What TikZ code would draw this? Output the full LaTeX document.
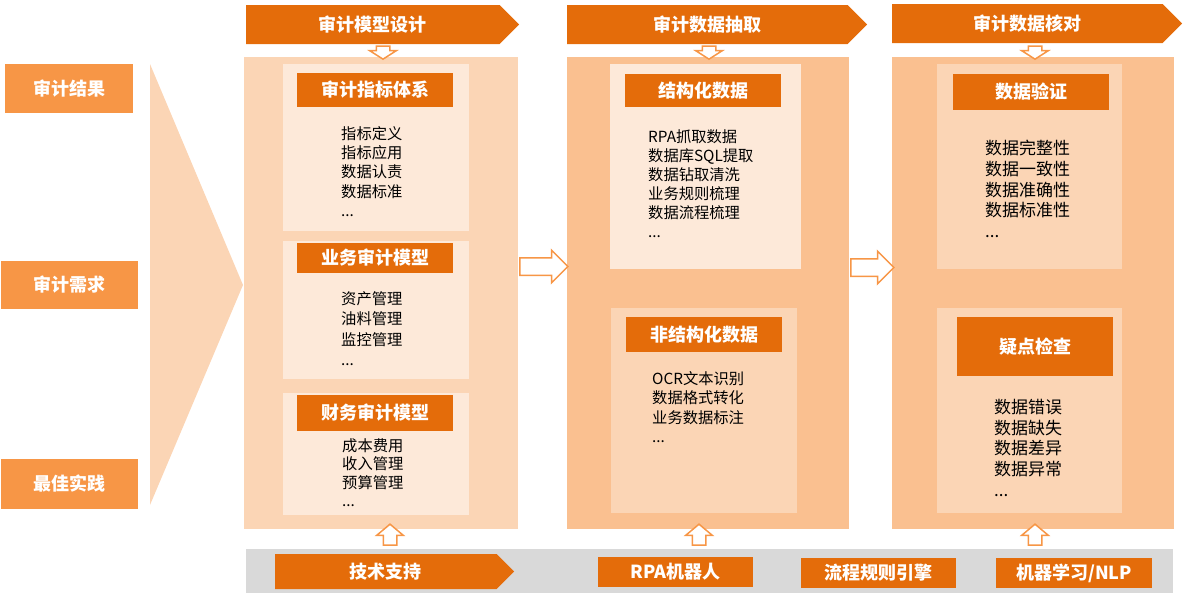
\documentclass[tikz,border=0pt]{standalone}
\usepackage{fontspec}
\setmainfont{Noto Sans CJK SC}
\usepackage{tikz}
\usetikzlibrary{shapes.symbols,shapes.arrows}

\definecolor{dkorange}{RGB}{228,108,10}
\definecolor{midorange}{RGB}{247,150,70}
\definecolor{peach}{RGB}{250,192,144}
\definecolor{lightpeach}{RGB}{251,213,181}
\definecolor{palepeach}{RGB}{253,233,217}
\definecolor{bargrey}{RGB}{217,217,217}

\begin{document}
\begin{tikzpicture}[x=1pt,y=-1pt,
    head/.style={signal, signal to=east, anchor=west, fill=dkorange, text=white, inner sep=0,
        font=\bfseries\fontsize{18}{22}\selectfont},
    title/.style={fill=dkorange, text=white, inner sep=0, minimum width=156,
        font=\bfseries\fontsize{18}{22}\selectfont},
    side/.style={fill=midorange, text=white, inner sep=0,
        font=\bfseries\fontsize{18}{22}\selectfont},
    items/.style={anchor=north west, align=left, inner sep=0,
        font=\fontsize{15.3}{19.3}\selectfont},
    bigitems/.style={items, font=\fontsize{17}{20.7}\selectfont},
    flow/.style={single arrow, draw=midorange, fill=white, line width=1.5pt,
        inner xsep=0, inner ysep=8, minimum width=31, single arrow head extend=7.5},
    small/.style={single arrow, draw=midorange, fill=white, line width=1.5pt,
        inner xsep=0, inner ysep=6, minimum width=25, single arrow head extend=6.5}]
    \useasboundingbox (0,0) rectangle (1194,605);

    % left side
    \fill[lightpeach] (150,64) -- (243,285) -- (150,505) -- cycle;
    \node[side, minimum width=128, minimum height=49] (result) at (69,88.5) {审计结果};
    \node[side, minimum width=137, minimum height=48] (demand) at (69.5,285) {审计需求};
    \node[side, minimum width=137, minimum height=50] (practice) at (69.5,484) {最佳实践};

    % panels
    \fill[lightpeach] (244,57) rectangle (518,529);
    \fill[peach] (567,57) rectangle (849,529);
    \fill[peach] (892,57) rectangle (1174,529);
    \fill[palepeach] (283,64) rectangle (469,231);
    \fill[palepeach] (283,241) rectangle (469,379);
    \fill[palepeach] (283,393) rectangle (469,515);
    \fill[palepeach] (610,64) rectangle (801,269);
    \fill[lightpeach] (611,308) rectangle (797,513);
    \fill[lightpeach] (937,64) rectangle (1122,269);
    \fill[lightpeach] (937,308) rectangle (1122,513);

    % headers
    \node[head, minimum width=273, minimum height=39] (design) at (246,24.5) {审计模型设计};
    \node[head, minimum width=300, minimum height=39] (extract) at (567,24.5) {审计数据抽取};
    \node[head, minimum width=290, minimum height=39] (check) at (892,23.5) {审计数据核对};
    \node[small, rotate=-90, minimum height=13, single arrow tip angle=115] (d1) at (383,50.5) {};
    \node[small, rotate=-90, minimum height=13, single arrow tip angle=115] (d2) at (709,50.5) {};
    \node[small, rotate=-90, minimum height=13, single arrow tip angle=115] (d3) at (1035,50.5) {};

    % model design
    \node[title, minimum height=34] (index) at (375,90) {审计指标体系};
    \node[items] (indexlist) at (341,126) {指标定义\\指标应用\\数据认责\\数据标准\\...};
    \node[title, minimum height=30] (business) at (375,258) {业务审计模型};
    \node[items, font=\fontsize{15.3}{20.5}\selectfont] (businesslist) at (341,291) {资产管理\\油料管理\\监控管理\\...};
    \node[title, minimum height=36] (finance) at (375,413) {财务审计模型};
    \node[items, font=\fontsize{15.3}{18.5}\selectfont] (financelist) at (342,438) {成本费用\\收入管理\\预算管理\\...};

    % data extraction
    \node[title, minimum height=33] (struct) at (703,90.5) {结构化数据};
    \node[items, font=\fontsize{15.3}{19}\selectfont] (structlist) at (648,129) {RPA抓取数据\\数据库SQL提取\\数据钻取清洗\\业务规则梳理\\数据流程梳理\\...};
    \node[title, minimum height=35] (unstruct) at (704,334.5) {非结构化数据};
    \node[items, font=\fontsize{15.3}{19.5}\selectfont] (unstructlist) at (652,371) {OCR文本识别\\数据格式转化\\业务数据标注\\...};

    % data check
    \node[title, minimum height=36] (verify) at (1031,92) {数据验证};
    \node[bigitems] (verifylist) at (985,140) {数据完整性\\数据一致性\\数据准确性\\数据标准性\\...};
    \node[title, minimum height=59] (doubt) at (1035,346.5) {疑点检查};
    \node[bigitems] (doubtlist) at (994,399) {数据错误\\数据缺失\\数据差异\\数据异常\\...};

    % flow between panels
    \node[flow, minimum height=48] (f1) at (539.5,266.5) {};
    \node[flow, minimum height=43] (f2) at (868,267.5) {};

    % support bar
    \fill[bargrey] (246,549) rectangle (1173,593);
    \node[head, minimum width=239, minimum height=35] (tech) at (275,571.5) {技术支持};
    \node[title, minimum width=155, minimum height=30] (rpa) at (675.5,572) {RPA机器人};
    \node[title, minimum width=155, minimum height=30] (rules) at (878.5,573) {流程规则引擎};
    \node[title, minimum width=156, minimum height=30] (ml) at (1074,573) {机器学习/NLP};
    \node[small, rotate=90, minimum width=24, minimum height=21, single arrow tip angle=100] (u1) at (390,537.5) {};
    \node[small, rotate=90, minimum width=24, minimum height=21, single arrow tip angle=100] (u2) at (699,537.5) {};
    \node[small, rotate=90, minimum width=24, minimum height=21, single arrow tip angle=100] (u3) at (1035,537.5) {};
\end{tikzpicture}
\end{document}
